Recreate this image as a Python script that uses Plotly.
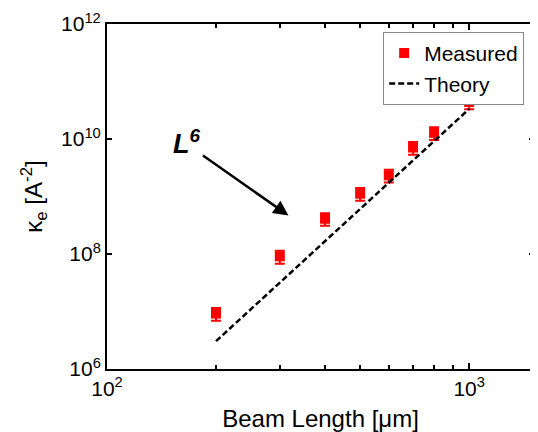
import plotly.graph_objects as go

# Data
beam_length = [200, 300, 400, 500, 600, 700, 800, 1000]
kappa_measured = [9.2e6, 9.1e7, 4.1e8, 1.12e9, 2.33e9, 7.1e9, 1.28e10, 4.4e10]
kappa_err = [2.3e6, 2.3e7, 1.0e8, 2.8e8, 5.8e8, 1.8e9, 3.2e9, 1.1e10]

theory_length = [200, 1000]
kappa_theory = [3.05e6, 3.33e10]

x_major = [100, 1000]
x_major_text = ["10<sup>2</sup>", "10<sup>3</sup>"]
x_minor = [200, 300, 400, 500, 600, 700, 800, 900]
y_ticks = [1e6, 1e8, 1e10, 1e12]
y_tick_text = ["10<sup>6</sup>", "10<sup>8</sup>", "10<sup>10</sup>", "10<sup>12</sup>"]

FONT = "Liberation Sans, Arial, sans-serif"

fig = go.Figure()
fig.add_trace(go.Scatter(
    x=beam_length, y=kappa_measured, mode="markers", name="Measured",
    marker=dict(symbol="square", size=10, color="#ff0000"),
    error_y=dict(type="data", array=kappa_err, visible=True,
                 color="#ff0000", thickness=2, width=5),
))
fig.add_trace(go.Scatter(
    x=theory_length, y=kappa_theory, mode="lines", name="Theory",
    line=dict(color="black", width=2.5, dash="6px,3px"),
))

fig.add_annotation(
    x=2.501, y=8.669, xref="x", yref="y", text="", showarrow=True,
    ax=-87, ay=-61, arrowhead=2, arrowsize=1.2, arrowwidth=2.5, arrowcolor="black",
)
fig.add_annotation(
    x=2.22, y=9.95, xref="x", yref="y", showarrow=False,
    text="<b><i>L<sup>6</sup></i></b>", font=dict(family=FONT, size=27, color="black"),
)

axis_common = dict(
    showline=True, linecolor="black", linewidth=2, mirror="allticks",
    ticks="inside", tickcolor="black", tickwidth=1.5,
    showgrid=False, zeroline=False,
    tickfont=dict(family=FONT, size=21, color="black"),
    ticklabeloverflow="allow",
)

fig.update_xaxes(
    type="log", range=[2, 3.179],
    tickvals=x_major, ticktext=x_major_text, ticklen=6,
    minor=dict(tickvals=x_minor, ticks="inside", ticklen=4, tickcolor="black", tickwidth=1.5),
    title=dict(text="Beam Length [\u03bcm]", font=dict(family=FONT, size=24, color="black"), standoff=13),
    **axis_common,
)
fig.update_yaxes(
    type="log", range=[6, 12],
    tickvals=y_ticks, ticktext=y_tick_text, ticklen=5,
    title=dict(text="\u03ba<sub>e</sub> [A<sup>-2</sup>]", font=dict(family=FONT, size=24, color="black"), standoff=12),
    **axis_common,
)

# The page adds an 8px body margin, so the figure is sized 8px smaller
fig.update_layout(
    width=530, height=424,
    margin=dict(l=99, r=2, t=13, b=57),
    paper_bgcolor="white", plot_bgcolor="white",
    font=dict(family=FONT, color="black"),
    legend=dict(
        x=0.977, y=0.977, xanchor="right", yanchor="top",
        bgcolor="white", bordercolor="#888888", borderwidth=1,
        font=dict(family=FONT, size=21, color="black"),
        tracegroupgap=0, itemwidth=30,
    ),
    showlegend=True,
)

fig.write_html("out.html")
